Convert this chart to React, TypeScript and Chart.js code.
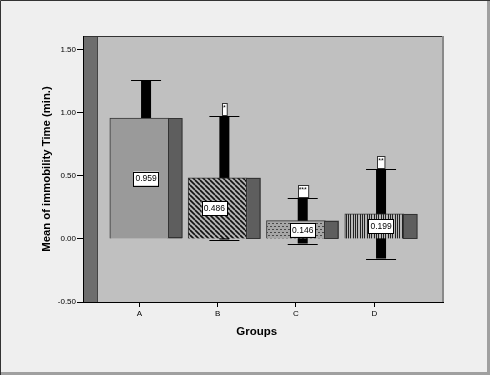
import React, { useEffect, useRef } from "react";
import { Chart, registerables } from "chart.js";

Chart.register(...registerables);

const groups = ["A", "B", "C", "D"];
const means = [0.959, 0.486, 0.146, 0.199];
const errors = [0.3, 0.49, 0.182, 0.354];
const sigMarks = ["", "*", "***", "**"];
const yTicks = [-0.5, 0, 0.5, 1.0, 1.5];
const yTitle = "Mean of immobility Time (min.)";
const xTitle = "Groups";

const FONT = "'Liberation Sans', Arial, sans-serif";

function makeTile(w: number, h: number, draw: (c: CanvasRenderingContext2D) => void) {
  const t = document.createElement("canvas");
  t.width = w;
  t.height = h;
  const c = t.getContext("2d")!;
  draw(c);
  return t;
}

function buildPatterns(ctx: CanvasRenderingContext2D) {
  const solid = "#9a9a9a";
  const diag = makeTile(5, 5, (c) => {
    c.fillStyle = "#b4b4b4";
    c.fillRect(0, 0, 5, 5);
    c.strokeStyle = "#111";
    c.lineWidth = 1.6;
    for (const k of [-5, 0, 5]) {
      c.beginPath();
      c.moveTo(k, 0);
      c.lineTo(k + 5, 5);
      c.stroke();
    }
  });
  const dots = makeTile(4, 6, (c) => {
    c.fillStyle = "#a6a6a6";
    c.fillRect(0, 0, 4, 6);
    c.fillStyle = "#4a4a4a";
    c.fillRect(0, 1, 2, 1);
    c.fillRect(2, 4, 2, 1);
  });
  const vert = makeTile(7, 4, (c) => {
    c.fillStyle = "#b8b8b8";
    c.fillRect(0, 0, 7, 4);
    c.fillStyle = "#222";
    c.fillRect(0, 0, 1, 4);
    c.fillRect(3, 0, 1, 4);
    c.fillRect(5, 0, 1, 4);
  });
  return [
    solid,
    ctx.createPattern(diag, "repeat")!,
    ctx.createPattern(dots, "repeat")!,
    ctx.createPattern(vert, "repeat")!,
  ];
}

const SIDE = 13.5;
const ERR_W = 10;
const CAP_W = 30;

const decorPlugin = {
  id: "decor",
  beforeDraw(chart: any) {
    const { ctx, chartArea: a, width, height } = chart;
    ctx.save();
    ctx.fillStyle = "#efefef";
    ctx.fillRect(0, 0, width, height);
    ctx.fillStyle = "#c0c0c0";
    ctx.fillRect(a.left, a.top, a.right - a.left, a.bottom - a.top);
    // left wall
    ctx.fillStyle = "#6e6e6e";
    ctx.fillRect(a.left, a.top, 14, a.bottom - a.top);
    ctx.strokeStyle = "#444";
    ctx.lineWidth = 1;
    ctx.beginPath();
    ctx.moveTo(a.left + 14.5, a.top);
    ctx.lineTo(a.left + 14.5, a.bottom);
    ctx.stroke();
    // plot frame top/right
    ctx.strokeStyle = "#333";
    ctx.beginPath();
    ctx.moveTo(a.left, a.top + 0.5);
    ctx.lineTo(a.right, a.top + 0.5);
    ctx.stroke();
    ctx.strokeStyle = "#8a8a8a";
    ctx.lineWidth = 2;
    ctx.beginPath();
    ctx.moveTo(a.right, a.top);
    ctx.lineTo(a.right, a.bottom);
    ctx.stroke();
    ctx.restore();
  },
  beforeDatasetsDraw(chart: any) {
    const { ctx, scales } = chart;
    const xs = scales.x;
    const ys = scales.y;
    ctx.save();
    means.forEach((m, i) => {
      const cx = xs.getPixelForValue(i) + SIDE / 2;
      const yTop = ys.getPixelForValue(m + errors[i]);
      const yBot = ys.getPixelForValue(m - errors[i]);
      ctx.fillStyle = "#000";
      ctx.fillRect(cx - ERR_W / 2, yTop, ERR_W, yBot - yTop);
      ctx.strokeStyle = "#000";
      ctx.lineWidth = 1;
      ctx.beginPath();
      ctx.moveTo(cx - CAP_W / 2, Math.round(yTop) + 0.5);
      ctx.lineTo(cx + CAP_W / 2, Math.round(yTop) + 0.5);
      ctx.moveTo(cx - CAP_W / 2, Math.round(yBot) + 0.5);
      ctx.lineTo(cx + CAP_W / 2, Math.round(yBot) + 0.5);
      ctx.stroke();
    });
    ctx.restore();
  },
  afterDatasetsDraw(chart: any) {
    const { ctx, scales, chartArea: a } = chart;
    const xs = scales.x;
    const ys = scales.y;
    const meta = chart.getDatasetMeta(0);
    ctx.save();
    meta.data.forEach((bar: any) => {
      const p = bar.getProps(["x", "y", "base", "width"], true);
      const right = p.x + p.width / 2;
      const top = Math.min(p.y, p.base);
      const h = Math.abs(p.base - p.y);
      ctx.fillStyle = "#5e5e5e";
      ctx.fillRect(right, top, SIDE, h);
      ctx.strokeStyle = "#333";
      ctx.lineWidth = 1;
      ctx.strokeRect(Math.round(right) - 0.5, Math.round(top) + 0.5, SIDE, Math.round(h) - 1);
    });
    // value labels
    ctx.font = `8.5px ${FONT}`;
    ctx.textAlign = "center";
    ctx.textBaseline = "middle";
    means.forEach((m, i) => {
      let cx = xs.getPixelForValue(i) + SIDE / 2;
      if (i === 1) cx -= 10;
      const cy = ys.getPixelForValue(m / 2);
      const txt = m.toFixed(3);
      const w = ctx.measureText(txt).width + 4;
      const h = 14;
      ctx.fillStyle = "#fff";
      ctx.fillRect(cx - w / 2, cy - h / 2, w, h);
      ctx.strokeStyle = "#000";
      ctx.lineWidth = 1;
      ctx.strokeRect(Math.round(cx - w / 2) + 0.5, Math.round(cy - h / 2) + 0.5, Math.round(w), h);
      ctx.fillStyle = "#000";
      ctx.fillText(txt, cx, cy + 0.5);
    });
    // significance marks
    ctx.font = `7px ${FONT}`;
    ctx.textBaseline = "top";
    sigMarks.forEach((s, i) => {
      if (!s) return;
      const cx = xs.getPixelForValue(i) + SIDE / 2;
      const capY = ys.getPixelForValue(means[i] + errors[i]);
      const w = ctx.measureText(s).width + 2;
      const h = 12;
      const x0 = Math.round(cx - w / 2) + 0.5;
      const y0 = Math.round(capY - 1 - h) + 0.5;
      ctx.fillStyle = "#fff";
      ctx.fillRect(x0, y0, w, h);
      ctx.strokeStyle = "#333";
      ctx.strokeRect(x0, y0, w, h);
      ctx.fillStyle = "#000";
      ctx.fillText(s, cx, y0 + 1);
    });
    // axis titles
    ctx.font = `bold 11.5px ${FONT}`;
    ctx.textAlign = "center";
    ctx.textBaseline = "alphabetic";
    ctx.fillStyle = "#000";
    ctx.fillText(xTitle, xs.getPixelForValue(1.5), 335);
    ctx.save();
    ctx.font = `bold 11.3px ${FONT}`;
    ctx.translate(50, (a.top + a.bottom) / 2);
    ctx.rotate(-Math.PI / 2);
    ctx.fillText(yTitle, 0, 0);
    ctx.restore();
    ctx.restore();
  },
  afterDraw(chart: any) {
    const { ctx, width, height } = chart;
    ctx.save();
    ctx.strokeStyle = "#a0a0a0";
    ctx.lineWidth = 3;
    ctx.beginPath();
    ctx.moveTo(0, height - 1.5);
    ctx.lineTo(width - 1.5, height - 1.5);
    ctx.lineTo(width - 1.5, 0);
    ctx.stroke();
    ctx.strokeStyle = "#333";
    ctx.lineWidth = 1;
    ctx.beginPath();
    ctx.moveTo(0.5, height);
    ctx.lineTo(0.5, 0.5);
    ctx.lineTo(width, 0.5);
    ctx.stroke();
    ctx.restore();
  },
};

export default function App() {
  const ref = useRef<HTMLCanvasElement>(null);
  useEffect(() => {
    const canvas = ref.current!;
    const ctx = canvas.getContext("2d")!;
    const patterns = buildPatterns(ctx);
    const chart = new Chart(canvas, {
      type: "bar",
      data: {
        datasets: [
          {
            data: means.map((v, i) => ({ x: i, y: v })),
            backgroundColor: patterns as any,
            borderColor: "#333",
            borderWidth: 1,
            barThickness: 59,
          },
        ],
      },
      options: {
        animation: false,
        responsive: false,
        devicePixelRatio: 1,
        layout: { padding: { top: 36, right: 47, left: 0, bottom: 0 } },
        plugins: { legend: { display: false }, tooltip: { enabled: false } },
        scales: {
          x: {
            type: "linear",
            offset: false,
            min: -0.7188,
            max: 3.877,
            afterFit: (s: any) => {
              s.height = 73;
            },
            afterBuildTicks: (s: any) => {
              s.ticks = groups.map((_, i) => ({ value: i }));
            },
            ticks: {
              callback: (v: any) => groups[Number(v)] ?? "",
              font: { size: 8, family: FONT },
              color: "#000",
              padding: 2,
              maxRotation: 0,
              autoSkip: false,
            },
            grid: { offset: false, drawOnChartArea: false, drawTicks: true, tickLength: 5, color: "#000" },
            border: { display: true, color: "#000", width: 1 },
          },
          y: {
            type: "linear",
            min: -0.5,
            max: 1.611,
            afterFit: (s: any) => {
              s.width = 83;
            },
            afterBuildTicks: (s: any) => {
              s.ticks = yTicks.map((v) => ({ value: v }));
            },
            ticks: {
              callback: (v: any) => Number(v).toFixed(2),
              font: { size: 8, family: FONT },
              color: "#000",
              padding: 1,
            },
            grid: { drawOnChartArea: false, drawTicks: true, tickLength: 6, color: "#000" },
            border: { display: true, color: "#000", width: 1 },
          },
        },
      },
      plugins: [decorPlugin],
    });
    return () => chart.destroy();
  }, []);
  return (
    <div style={{ position: "fixed", left: 0, top: 0, width: 490, height: 375 }}>
      <canvas ref={ref} width={490} height={375} style={{ display: "block" }} />
    </div>
  );
}
